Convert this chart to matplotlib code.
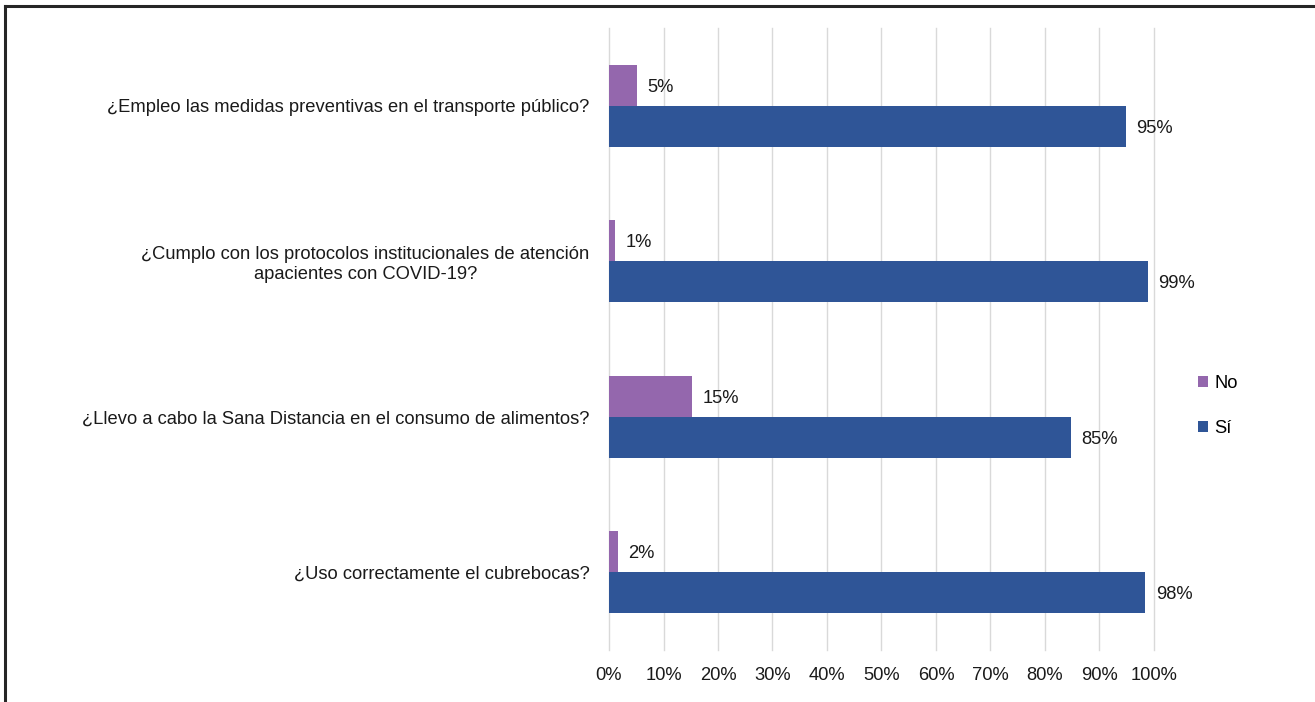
import matplotlib
matplotlib.use("Agg")
import matplotlib.pyplot as plt
from matplotlib.lines import Line2D
import numpy as np

categories = [
    "¿Empleo las medidas preventivas en el transporte público?",
    "¿Cumplo con los protocolos institucionales de atención\napacientes con COVID-19?",
    "¿Llevo a cabo la Sana Distancia en el consumo de alimentos?",
    "¿Uso correctamente el cubrebocas?",
]
no_values = [5.1, 1.1, 15.2, 1.6]
si_values = [94.9, 98.9, 84.8, 98.4]
no_labels = ["5%", "1%", "15%", "2%"]
si_labels = ["95%", "99%", "85%", "98%"]
xticks = list(range(0, 101, 10))
xtick_labels = [f"{t}%" for t in xticks]

plt.rcParams['font.family'] = ['Liberation Sans', 'DejaVu Sans']
FS = 13.2

fig = plt.figure(figsize=(13.15, 7.02), dpi=100)
ax = fig.add_axes([609/1315, 1-650/702, (1154-609)/1315, (650-28)/702])

purple = "#9467ad"
blue = "#2f5597"
h = 0.264
y = np.arange(len(categories))
ax.barh(y - h/2, no_values, height=h, color=purple, label="No", zorder=3)
ax.barh(y + h/2, si_values, height=h, color=blue, label="Sí", zorder=3)

for yi, v, lab in zip(y, no_values, no_labels):
    ax.text(v + 1.9, yi - h/2 + 0.012, lab, va="center", ha="left", fontsize=FS, color="#1a1a1a")
for yi, v, lab in zip(y, si_values, si_labels):
    ax.text(v + 1.9, yi + h/2 + 0.012, lab, va="center", ha="left", fontsize=FS, color="#1a1a1a")

ax.set_xlim(0, 100)
ax.set_ylim(len(categories) - 0.5, -0.5)
ax.set_xticks(xticks)
ax.set_xticklabels(xtick_labels, fontsize=FS, color="#1a1a1a")
ax.set_yticks(y)
ax.set_yticklabels(categories, fontsize=FS, color="#1a1a1a", multialignment="center")
ax.tick_params(axis="both", length=0)
ax.tick_params(axis="x", pad=12)
ax.tick_params(axis="y", pad=14)
ax.grid(axis="x", color="#d9d9d9", linewidth=1, zorder=0)
for gl in ax.get_xgridlines():
    gl.set_clip_on(False)
for s in ax.spines.values():
    s.set_visible(False)

leg = fig.legend(loc="center left", bbox_to_anchor=(1181/1315, 1-406/702), frameon=False,
                 fontsize=FS, handlelength=0.55, handleheight=0.55, handletextpad=0.35,
                 labelspacing=1.5)

# frame lines (top and left)
fig.add_artist(Line2D([5/1315, 1], [1-6/702, 1-6/702], transform=fig.transFigure, color="#262626", linewidth=2.2))
fig.add_artist(Line2D([5/1315, 5/1315], [0, 1-6/702], transform=fig.transFigure, color="#262626", linewidth=2.2))

fig.savefig("out.png", dpi=100)
